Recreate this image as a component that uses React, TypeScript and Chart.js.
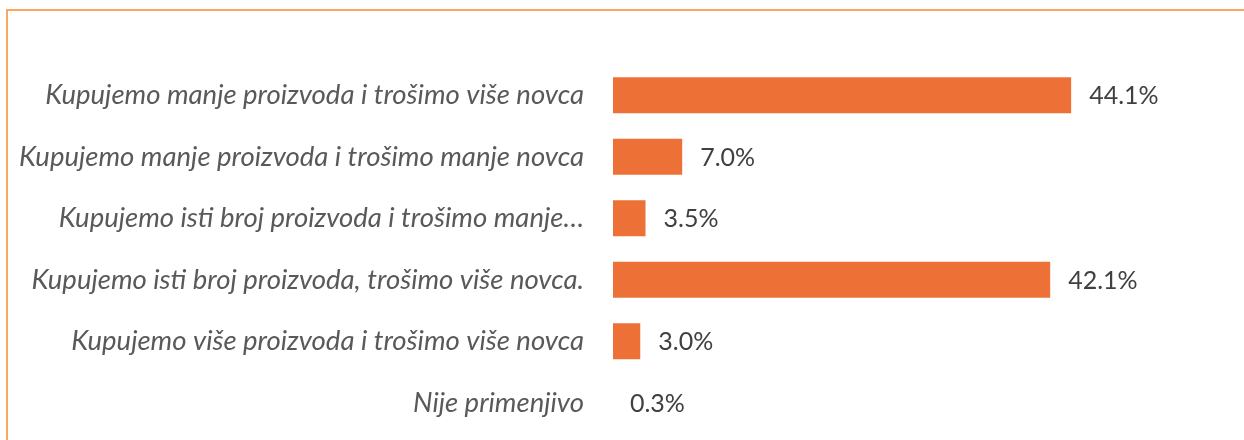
import React, { useEffect, useRef } from "react";
import { Chart, registerables } from "chart.js";

Chart.register(...registerables);

const categories: string[] = [
  "Kupujemo manje proizvoda i trošimo više novca",
  "Kupujemo manje proizvoda i trošimo manje novca",
  "Kupujemo isti broj proizvoda i trošimo manje…",
  "Kupujemo isti broj proizvoda, trošimo više novca.",
  "Kupujemo više proizvoda i trošimo više novca",
  "Nije primenjivo",
];

const values: number[] = [44.1, 7.0, 3.5, 42.1, 3.0, 0.3];

const BAR_COLOR = "#ED7037";
const LABEL_COLOR = "#595959";
const VALUE_COLOR = "#404040";
const BORDER_COLOR = "#F9A85E";
const FONT = "Lato";

const valueLabelPlugin = {
  id: "valueLabels",
  afterDatasetsDraw(chart: any) {
    const ctx = chart.ctx;
    const meta = chart.getDatasetMeta(0);
    ctx.save();
    ctx.font = `25px ${FONT}`;
    ctx.fillStyle = VALUE_COLOR;
    ctx.textAlign = "left";
    ctx.textBaseline = "middle";
    meta.data.forEach((el: any, i: number) => {
      const v = values[i];
      ctx.fillText(v.toFixed(1) + "%", el.x + 18, el.y + 1);
    });
    ctx.restore();
  },
};

export default function App() {
  const canvasRef = useRef<HTMLCanvasElement | null>(null);

  useEffect(() => {
    if (!canvasRef.current) return;
    const chart = new Chart(canvasRef.current, {
      type: "bar",
      data: {
        labels: categories,
        datasets: [
          {
            data: values,
            backgroundColor: BAR_COLOR,
            borderWidth: 0,
            barPercentage: 0.585,
            categoryPercentage: 1,
          },
        ],
      },
      options: {
        indexAxis: "y",
        responsive: false,
        maintainAspectRatio: false,
        animation: false,
        layout: { padding: { top: 64.6, bottom: 6.5, left: 0, right: 111 } },
        plugins: {
          legend: { display: false },
          tooltip: { enabled: false },
        },
        scales: {
          x: {
            display: false,
            min: 0.4,
            max: 50,
          },
          y: {
            grid: { display: false, drawTicks: false, tickLength: 0 },
            border: { display: false },
            ticks: {
              color: LABEL_COLOR,
              padding: 29,
              font: { family: FONT, size: 27.5, style: "italic" },
            },
            afterFit: (s: any) => {
              s.width = 613;
              s.paddingTop = 0;
              s.paddingBottom = 0;
            },
          },
        },
      },
      plugins: [valueLabelPlugin],
    });
    return () => chart.destroy();
  }, []);

  return (
    <div style={{ position: "fixed", left: 0, top: 0, width: 1244, height: 440, background: "#fff" }}>
      <div
        style={{
          position: "absolute",
          left: 6,
          top: 9,
          right: 0,
          bottom: 0,
          borderTop: `2px solid ${BORDER_COLOR}`,
          borderLeft: `2px solid ${BORDER_COLOR}`,
        }}
      />
      <canvas
        ref={canvasRef}
        width={1244}
        height={440}
        style={{ position: "absolute", left: 0, top: 0, width: 1244, height: 440 }}
      />
    </div>
  );
}
